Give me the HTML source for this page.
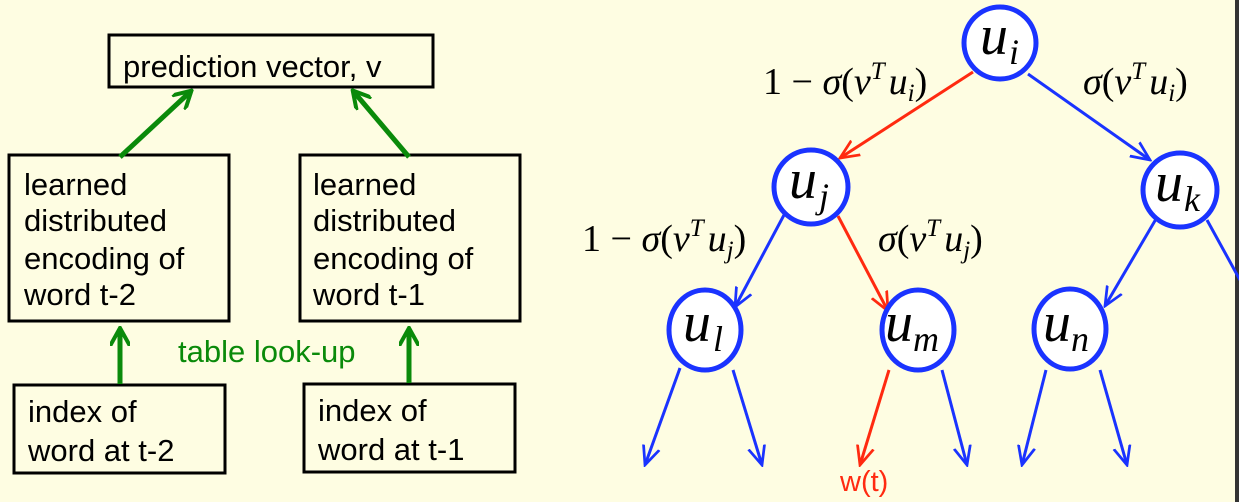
<!DOCTYPE html>
<html><head><meta charset="utf-8"><style>
html,body{margin:0;padding:0;background:#fefde2;}
svg{display:block;}
.s{font-family:"Liberation Sans",sans-serif;font-size:31px;fill:#000;}
.m{font-family:"Liberation Serif",serif;font-size:38px;fill:#000;}
.u{font-family:"Liberation Serif",serif;font-style:italic;font-size:56px;fill:#000;}
.sub{font-family:"Liberation Serif",serif;font-style:italic;font-size:36px;}
</style></head><body>
<svg width="1239" height="502" viewBox="0 0 1239 502">
<defs>
<marker id="ag" viewBox="0 0 10 10" refX="8" refY="5" markerWidth="4" markerHeight="4" orient="auto-start-reverse"><path d="M0,0 L9,5 L0,10" fill="none" stroke="#0a8a0a" stroke-width="2"/></marker>
<marker id="ab" viewBox="0 0 10 10" refX="9" refY="5" markerWidth="7" markerHeight="7" orient="auto"><path d="M0,1 L9,5 L0,9" fill="none" stroke="#1a33ff" stroke-width="1.3"/></marker>
<marker id="ar" viewBox="0 0 10 10" refX="9" refY="5" markerWidth="7" markerHeight="7" orient="auto"><path d="M0,1 L9,5 L0,9" fill="none" stroke="#ff2a10" stroke-width="1.3"/></marker>
</defs>
<rect x="1235" y="0" width="4" height="502" fill="#333"/>

<g>
<rect x="109" y="35" width="324" height="52" fill="none" stroke="#000" stroke-width="3"/>
<text class="s" x="123" y="77">prediction vector, v</text>
<rect x="9" y="155" width="220" height="166" fill="none" stroke="#000" stroke-width="3"/>
<text class="s"><tspan x="24" y="195">learned</tspan><tspan x="24" y="231">distributed</tspan><tspan x="24" y="269">encoding of</tspan><tspan x="24" y="305">word t-2</tspan></text>
<rect x="300" y="155" width="220" height="166" fill="none" stroke="#000" stroke-width="3"/>
<text class="s"><tspan x="313" y="195">learned</tspan><tspan x="313" y="231">distributed</tspan><tspan x="313" y="269">encoding of</tspan><tspan x="313" y="305">word t-1</tspan></text>
<rect x="14" y="385" width="211" height="88" fill="none" stroke="#000" stroke-width="3"/>
<text class="s"><tspan x="28" y="422">index of</tspan><tspan x="28" y="461">word at t-2</tspan></text>
<rect x="304" y="384" width="211" height="88" fill="none" stroke="#000" stroke-width="3"/>
<text class="s"><tspan x="318" y="421">index of</tspan><tspan x="318" y="460">word at t-1</tspan></text>
<g stroke="#0a8a0a" stroke-width="5" fill="none" marker-end="url(#ag)">
<line x1="120" y1="157" x2="190" y2="92"/>
<line x1="409" y1="157" x2="354" y2="92"/>
<line x1="120" y1="384" x2="120" y2="330"/>
<line x1="409" y1="383" x2="409" y2="330"/>
</g>
<text x="178" y="362" font-family="Liberation Sans,sans-serif" font-size="31" fill="#0a8a0a">table look-up</text>
</g>

<g>
<g stroke-width="3" fill="none">
<line x1="973" y1="72" x2="840" y2="158" stroke="#ff2a10" marker-end="url(#ar)"/>
<line x1="1028" y1="74" x2="1150" y2="160" stroke="#1a33ff" marker-end="url(#ab)"/>
<line x1="784" y1="215" x2="735" y2="307" stroke="#1a33ff" marker-end="url(#ab)"/>
<line x1="838" y1="216" x2="888" y2="311" stroke="#ff2a10" marker-end="url(#ar)"/>
<line x1="1156" y1="219" x2="1105" y2="306" stroke="#1a33ff" marker-end="url(#ab)"/>
<line x1="1207" y1="220" x2="1240" y2="280" stroke="#1a33ff"/>
<line x1="680" y1="368" x2="645" y2="465" stroke="#1a33ff" marker-end="url(#ab)"/>
<line x1="733" y1="370" x2="762" y2="465" stroke="#1a33ff" marker-end="url(#ab)"/>
<line x1="889" y1="370" x2="860" y2="465" stroke="#ff2a10" marker-end="url(#ar)"/>
<line x1="942" y1="370" x2="967" y2="465" stroke="#1a33ff" marker-end="url(#ab)"/>
<line x1="1046" y1="370" x2="1022" y2="465" stroke="#1a33ff" marker-end="url(#ab)"/>
<line x1="1100" y1="370" x2="1127" y2="465" stroke="#1a33ff" marker-end="url(#ab)"/>
</g>
<g fill="#fff" stroke="#1a33ff" stroke-width="5">
<circle cx="1000" cy="43" r="36"/>
<circle cx="811" cy="187" r="37"/>
<circle cx="1180" cy="190" r="37"/>
<ellipse cx="705" cy="330" rx="36" ry="40"/>
<ellipse cx="918" cy="330" rx="36" ry="40"/>
<ellipse cx="1070" cy="329" rx="36" ry="40"/>
</g>
<text class="u" x="980" y="54">u<tspan class="sub" dx="1" dy="10">i</tspan></text>
<text class="u" x="789" y="198">u<tspan class="sub" dx="2" dy="10">j</tspan></text>
<text class="u" x="1155" y="201">u<tspan class="sub" dx="1" dy="10">k</tspan></text>
<text class="u" x="683" y="341">u<tspan class="sub" dx="2" dy="10">l</tspan></text>
<text class="u" x="885" y="341">u<tspan class="sub" dx="0" dy="10">m</tspan></text>
<text class="u" x="1043" y="341">u<tspan class="sub" dx="0" dy="10">n</tspan></text>
<text class="m" x="763" y="94">1 − <tspan font-style="italic">σ</tspan>(<tspan font-style="italic">v</tspan><tspan font-size="25" font-style="italic" dy="-15">T</tspan><tspan font-style="italic" dx="4" dy="15">u</tspan><tspan font-size="25" font-style="italic" dy="7">i</tspan><tspan dy="-7">)</tspan></text>
<text class="m" x="1083" y="94"><tspan font-style="italic">σ</tspan>(<tspan font-style="italic">v</tspan><tspan font-size="25" font-style="italic" dy="-15">T</tspan><tspan font-style="italic" dx="4" dy="15">u</tspan><tspan font-size="25" font-style="italic" dy="7">i</tspan><tspan dy="-7">)</tspan></text>
<text class="m" x="582" y="251">1 − <tspan font-style="italic">σ</tspan>(<tspan font-style="italic">v</tspan><tspan font-size="25" font-style="italic" dy="-15">T</tspan><tspan font-style="italic" dx="4" dy="15">u</tspan><tspan font-size="25" font-style="italic" dy="7">j</tspan><tspan dy="-7">)</tspan></text>
<text class="m" x="878" y="251"><tspan font-style="italic">σ</tspan>(<tspan font-style="italic">v</tspan><tspan font-size="25" font-style="italic" dy="-15">T</tspan><tspan font-style="italic" dx="4" dy="15">u</tspan><tspan font-size="25" font-style="italic" dy="7">j</tspan><tspan dy="-7">)</tspan></text>
<text x="840" y="491" font-family="Liberation Sans,sans-serif" font-size="29" fill="#ff2a10">w(t)</text>
</g>
</svg>
</body></html>
